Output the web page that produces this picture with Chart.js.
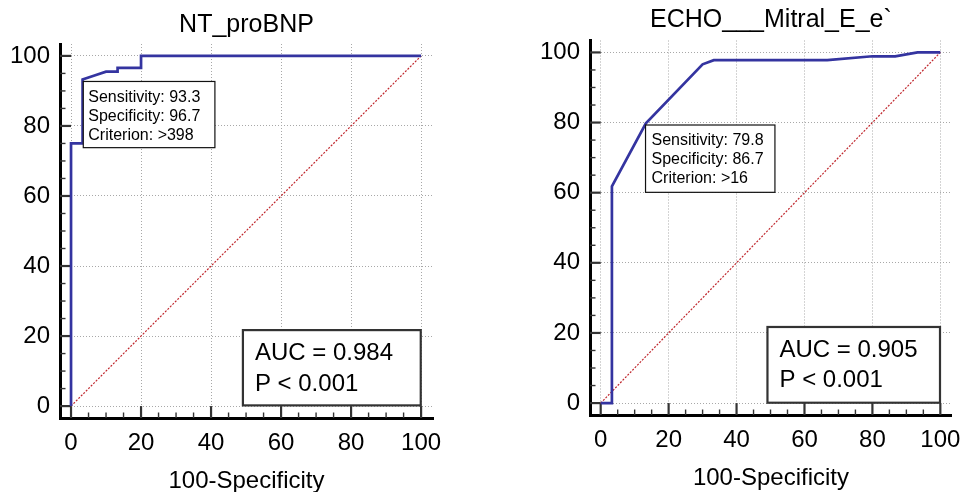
<!DOCTYPE html>
<html>
<head>
<meta charset="utf-8">
<title>ROC curves</title>
<script src="https://cdn.jsdelivr.net/npm/chart.js@4.4.1/dist/chart.umd.min.js"></script>
<style>
  html, body { margin: 0; padding: 0; background: #fff; }
  #wrap { position: relative; width: 972px; height: 492px; }
  .pane { position: absolute; top: 0; width: 486px; height: 492px; }
</style>
</head>
<body>
<div id="wrap">
  <div class="pane" style="left:0"><canvas id="rocLeft"></canvas></div>
  <div class="pane" style="left:486px"><canvas id="rocRight"></canvas></div>
</div>
<script>
// Axis ticks (both panels)
const tickValues = [0, 20, 40, 60, 80, 100];
const minorTickValues = [5, 10, 15, 25, 30, 35, 45, 50, 55, 65, 70, 75, 85, 90, 95];

// Reference diagonal
const diagonalX = [0, 100];
const diagonalY = [0, 100];

// NT_proBNP ROC curve (100-Specificity vs Sensitivity)
const bnpSpecX = [0, 0, 3.3, 3.3, 6.7, 10, 13.3, 13.3, 20, 20, 100];
const bnpSensY = [0, 75, 75, 93.3, 94.4, 95.5, 95.5, 96.6, 96.6, 100, 100];

// ECHO Mitral E/e` ROC curve
const echoSpecX = [0, 3.3, 3.3, 13.3, 30, 33.3, 66.7, 80, 86.7, 93.3, 100];
const echoSensY = [0, 0, 61.8, 79.8, 96.6, 97.8, 97.8, 98.9, 98.9, 100, 100];

// Texts
const bnpCriterion = ['Sensitivity: 93.3', 'Specificity: 96.7', 'Criterion: >398'];
const echoCriterion = ['Sensitivity: 79.8', 'Specificity: 86.7', 'Criterion: >16'];
const bnpAuc = ['AUC = 0.984', 'P < 0.001'];
const echoAuc = ['AUC = 0.905', 'P < 0.001'];

const FONT = "'Liberation Sans', Arial, sans-serif";
Chart.defaults.font.family = FONT;
Chart.defaults.color = '#000';

function toPoints(xs, ys) {
  return xs.map((v, i) => ({ x: v, y: ys[i] }));
}

function strokeLine(ctx, x1, y1, x2, y2) {
  ctx.beginPath();
  ctx.moveTo(x1, y1);
  ctx.lineTo(x2, y2);
  ctx.stroke();
}

// Inward tick marks + text boxes
const rocDecor = {
  id: 'rocDecor',
  beforeDatasetsDraw(chart) {
    const { ctx, chartArea, scales: { x, y } } = chart;
    const x0 = x.getPixelForValue(0);
    const y0 = y.getPixelForValue(0);
    ctx.save();
    ctx.strokeStyle = '#333';
    ctx.lineWidth = 2.2;
    tickValues.forEach(v => {
      const py = y.getPixelForValue(v);
      strokeLine(ctx, chartArea.left, py, x0, py);
      const px = x.getPixelForValue(v);
      strokeLine(ctx, px, chartArea.bottom, px, y0);
    });
    ctx.lineWidth = 1.4;
    minorTickValues.forEach(v => {
      const py = y.getPixelForValue(v);
      strokeLine(ctx, chartArea.left, py, chartArea.left + 5.5, py);
      const px = x.getPixelForValue(v);
      strokeLine(ctx, px, chartArea.bottom, px, chartArea.bottom - 5.5);
    });
    ctx.restore();
  },
  afterDatasetsDraw(chart, args, opts) {
    const { ctx, scales: { x, y } } = chart;
    (opts.boxes || []).forEach(b => {
      const left = x.getPixelForValue(b.x0);
      const right = x.getPixelForValue(b.x1);
      const top = y.getPixelForValue(b.y0);
      const bottom = y.getPixelForValue(b.y1);
      ctx.save();
      ctx.fillStyle = '#fff';
      ctx.fillRect(left, top, right - left, bottom - top);
      ctx.strokeStyle = b.border;
      ctx.lineWidth = b.borderWidth;
      ctx.strokeRect(left, top, right - left, bottom - top);
      ctx.fillStyle = '#000';
      ctx.font = b.size + 'px ' + FONT;
      ctx.textAlign = 'left';
      ctx.textBaseline = 'alphabetic';
      // rowY gives the cap-height centre of each line
      b.lines.forEach((t, i) => ctx.fillText(t, left + b.padX, top + b.rowY[i] + 0.36 * b.size));
      ctx.restore();
    });
  }
};

function makeRoc(canvasId, cfg) {
  const ctx = document.getElementById(canvasId).getContext('2d');
  return new Chart(ctx, {
    type: 'scatter',
    data: {
      datasets: [{
        data: cfg.points,
        showLine: true,
        borderColor: '#3434a0',
        borderWidth: 2.7,
        pointRadius: 0,
        tension: 0
      }, {
        data: toPoints(diagonalX, diagonalY),
        showLine: true,
        borderColor: '#c0282e',
        borderWidth: 1.2,
        borderDash: [2, 1.5],
        pointRadius: 0
      }]
    },
    options: {
      responsive: true,
      maintainAspectRatio: false,
      animation: false,
      layout: { padding: cfg.padding },
      scales: {
        x: {
          type: 'linear',
          min: -3.15,
          max: 103.4,
          afterBuildTicks: s => { s.ticks = tickValues.map(v => ({ value: v })); },
          afterFit: s => { s.height = cfg.xHeight; },
          ticks: { font: { size: 24 }, color: '#000', padding: 11, maxRotation: 0, autoSkip: false },
          grid: { color: '#a8a8a8', lineWidth: 1, drawTicks: false },
          border: { display: true, color: '#000', width: 3, dash: [1, 2] },
          title: {
            display: true,
            text: '100-Specificity',
            font: { size: 24, lineHeight: 0.9 },
            color: '#000',
            padding: { top: 0, bottom: cfg.xTitlePad }
          }
        },
        y: {
          type: 'linear',
          min: -3.4,
          max: 103.4,
          afterBuildTicks: s => { s.ticks = tickValues.map(v => ({ value: v })); },
          afterFit: s => { s.width = 50; },
          ticks: { font: { size: 24 }, color: '#000', padding: 10, autoSkip: false },
          grid: { color: '#a8a8a8', lineWidth: 1, drawTicks: false },
          border: { display: true, color: '#000', width: 3, dash: [1, 2] }
        }
      },
      plugins: {
        legend: { display: false },
        tooltip: { enabled: false },
        title: {
          display: true,
          text: cfg.title,
          fullSize: false,
          color: '#000',
          font: { size: 25, weight: 'normal', lineHeight: 1.2 },
          padding: cfg.titlePad
        },
        rocDecor: { boxes: cfg.boxes }
      }
    },
    plugins: [rocDecor]
  });
}

makeRoc('rocLeft', {
  title: 'NT_proBNP',
  points: toPoints(bnpSpecX, bnpSensY),
  padding: { left: 10, right: 53, top: 0, bottom: 0 },
  titlePad: { top: 10, bottom: 4 },
  xHeight: 74,
  xTitlePad: 0,
  boxes: [
    { x0: 3.5, y0: 92.7, x1: 41.1, y1: 73.8, lines: bnpCriterion, size: 16,
      padX: 5, rowY: [14.5, 34, 52.5], border: '#111', borderWidth: 1.2 },
    { x0: 49.1, y0: 21.7, x1: 99.9, y1: 0.2, lines: bnpAuc, size: 24,
      padX: 12, rowY: [21.3, 52], border: '#333', borderWidth: 2.2 }
  ]
});

makeRoc('rocRight', {
  title: 'ECHO___Mitral_E_e`',
  points: toPoints(echoSpecX, echoSensY),
  padding: { left: 54, right: 9, top: 0, bottom: 0 },
  titlePad: { top: 5, bottom: 5.5 },
  xHeight: 77,
  xTitlePad: 2.6,
  boxes: [
    { x0: 13.2, y0: 79.3, x1: 51.3, y1: 60.1, lines: echoCriterion, size: 16,
      padX: 6, rowY: [14, 33, 52], border: '#111', borderWidth: 1.2 },
    { x0: 49.1, y0: 21.7, x1: 99.9, y1: 0.1, lines: echoAuc, size: 24,
      padX: 12, rowY: [21.3, 51.3], border: '#333', borderWidth: 2.2 }
  ]
});
</script>
</body>
</html>
